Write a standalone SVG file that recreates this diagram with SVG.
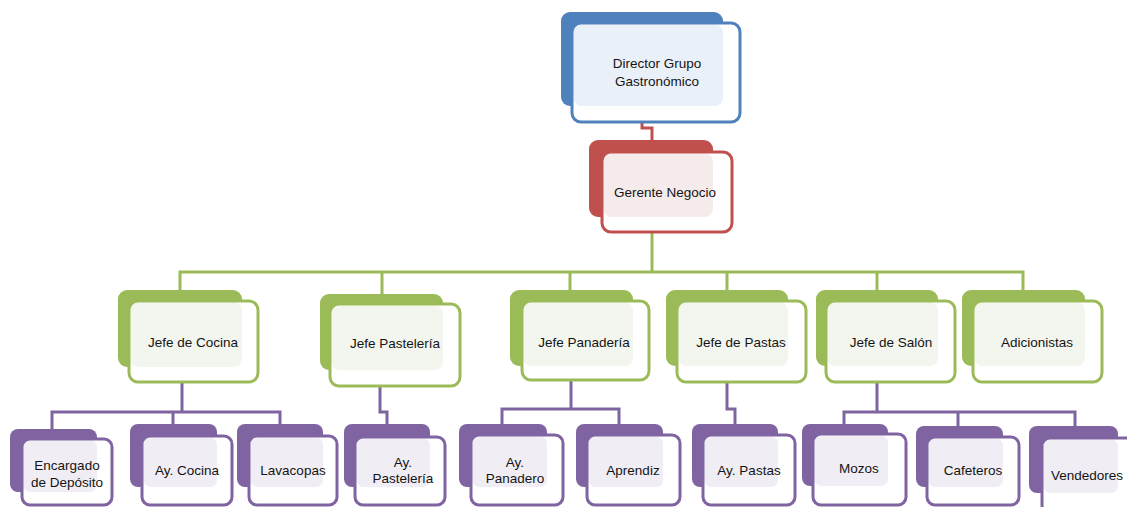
<svg xmlns="http://www.w3.org/2000/svg" width="1127" height="507" viewBox="0 0 1127 507">
<style>
text{font-family:"Liberation Sans",Arial,sans-serif;font-size:13.5px;fill:#141414;text-anchor:middle}
.ln{fill:none;stroke-width:3;stroke-linejoin:miter}
.fw{fill:#ffffff;stroke:none}
.bb{fill:#4F81BD}.ob{fill:none;stroke:#4F81BD;stroke-width:3}.tb{fill:#EAF0F8}
.br{fill:#C0504D}.or{fill:none;stroke:#C0504D;stroke-width:3}.tr{fill:#F6EBEB}
.bg{fill:#9BBB59}.og{fill:none;stroke:#9BBB59;stroke-width:3}.tg{fill:#F3F6EE}
.bp{fill:#8064A2}.op{fill:none;stroke:#8064A2;stroke-width:3}.tp{fill:#F0EEF4}
</style>
<rect width="1127" height="507" fill="#ffffff"/>
<g id="connectors">
<path class="ln" stroke="#C0504D" d="M642,112 V128 H652 V140"/>
<path class="ln" stroke="#9BBB59" d="M652,230 V272 M180,290 V272 H1023 V290 M382,272 V294 M570,272 V290 M727,272 V290 M877,272 V290"/>
<path class="ln" stroke="#8064A2" d="M182,380 V412 M52,429 V412 H280 V424 M173,412 V424 M380,384 V412 H387 V424 M571,379 V409 M502,424 V409 H619 V424 M727,380 V409 H735 V424 M877,380 V412 M844,424 V412 H1075 V426 M958,412 V426"/>
</g>
<g id="director">
<rect class="bb" x="561" y="12" width="162" height="94" rx="9"/>
<rect class="fw" x="572" y="23" width="168" height="99" rx="9"/>
<rect class="tb" x="573.5" y="24.5" width="149.5" height="81.5" rx="8"/>
<rect class="ob" x="572" y="23" width="168" height="99" rx="9"/>
<text x="657" y="68">Director Grupo</text>
<text x="657" y="86">Gastronómico</text>
</g>
<g id="gerente">
<rect class="br" x="589" y="140" width="124" height="77" rx="9"/>
<rect class="fw" x="602" y="152" width="130" height="80" rx="9"/>
<rect class="tr" x="603.5" y="153.5" width="109.5" height="63.5" rx="8"/>
<rect class="or" x="602" y="152" width="130" height="80" rx="9"/>
<text x="665" y="196.5">Gerente Negocio</text>
</g>
<g id="jefe-cocina">
<rect class="bg" x="118" y="290" width="124" height="77" rx="9"/>
<rect class="fw" x="129" y="301" width="129" height="81" rx="9"/>
<rect class="tg" x="130.5" y="302.5" width="111.5" height="64.5" rx="8"/>
<rect class="og" x="129" y="301" width="129" height="81" rx="9"/>
<text x="193" y="346.5">Jefe de Cocina</text>
</g>
<g id="jefe-pasteleria">
<rect class="bg" x="320" y="294" width="123" height="76" rx="9"/>
<rect class="fw" x="330" y="304" width="130" height="82" rx="9"/>
<rect class="tg" x="331.5" y="305.5" width="111.5" height="64.5" rx="8"/>
<rect class="og" x="330" y="304" width="130" height="82" rx="9"/>
<text x="395" y="347.5">Jefe Pastelería</text>
</g>
<g id="jefe-panaderia">
<rect class="bg" x="510" y="290" width="123" height="76" rx="9"/>
<rect class="fw" x="522" y="301" width="127" height="79" rx="9"/>
<rect class="tg" x="523.5" y="302.5" width="109.5" height="63.5" rx="8"/>
<rect class="og" x="522" y="301" width="127" height="79" rx="9"/>
<text x="584" y="346.5">Jefe Panadería</text>
</g>
<g id="jefe-pastas">
<rect class="bg" x="666" y="290" width="122" height="76" rx="9"/>
<rect class="fw" x="677" y="301" width="129" height="81" rx="9"/>
<rect class="tg" x="678.5" y="302.5" width="109.5" height="63.5" rx="8"/>
<rect class="og" x="677" y="301" width="129" height="81" rx="9"/>
<text x="741" y="346.5">Jefe de Pastas</text>
</g>
<g id="jefe-salon">
<rect class="bg" x="816" y="290" width="122" height="76" rx="9"/>
<rect class="fw" x="826" y="301" width="129" height="81" rx="9"/>
<rect class="tg" x="827.5" y="302.5" width="110.5" height="63.5" rx="8"/>
<rect class="og" x="826" y="301" width="129" height="81" rx="9"/>
<text x="891" y="346.5">Jefe de Salón</text>
</g>
<g id="adicionistas">
<rect class="bg" x="962" y="290" width="123" height="76" rx="9"/>
<rect class="fw" x="973" y="301" width="129" height="81" rx="9"/>
<rect class="tg" x="974.5" y="302.5" width="110.5" height="63.5" rx="8"/>
<rect class="og" x="973" y="301" width="129" height="81" rx="9"/>
<text x="1037" y="346.5">Adicionistas</text>
</g>
<g id="encargado-deposito">
<rect class="bp" x="10" y="429" width="87" height="63" rx="8"/>
<rect class="fw" x="22" y="439" width="90" height="66" rx="8"/>
<rect class="tp" x="23.5" y="440.5" width="73.5" height="51.5" rx="7"/>
<rect class="op" x="22" y="439" width="90" height="66" rx="8"/>
<text x="67" y="469.5">Encargado</text>
<text x="67" y="486.5">de Depósito</text>
</g>
<g id="ay-cocina">
<rect class="bp" x="130" y="424" width="87" height="63" rx="8"/>
<rect class="fw" x="142" y="436" width="90" height="69" rx="8"/>
<rect class="tp" x="143.5" y="437.5" width="73.5" height="49.5" rx="7"/>
<rect class="op" x="142" y="436" width="90" height="69" rx="8"/>
<text x="187" y="474.5">Ay. Cocina</text>
</g>
<g id="lavacopas">
<rect class="bp" x="237" y="424" width="86" height="63" rx="8"/>
<rect class="fw" x="249" y="436" width="88" height="69" rx="8"/>
<rect class="tp" x="250.5" y="437.5" width="72.5" height="49.5" rx="7"/>
<rect class="op" x="249" y="436" width="88" height="69" rx="8"/>
<text x="293" y="474.5">Lavacopas</text>
</g>
<g id="ay-pasteleria">
<rect class="bp" x="344" y="424" width="86" height="63" rx="8"/>
<rect class="fw" x="355" y="437" width="90" height="68" rx="8"/>
<rect class="tp" x="356.5" y="438.5" width="73.5" height="48.5" rx="7"/>
<rect class="op" x="355" y="437" width="90" height="68" rx="8"/>
<text x="403" y="466.5">Ay.</text>
<text x="403" y="482.5">Pastelería</text>
</g>
<g id="ay-panadero">
<rect class="bp" x="459" y="424" width="88" height="63" rx="8"/>
<rect class="fw" x="471" y="435" width="92" height="70" rx="8"/>
<rect class="tp" x="472.5" y="436.5" width="74.5" height="50.5" rx="7"/>
<rect class="op" x="471" y="435" width="92" height="70" rx="8"/>
<text x="515" y="466.5">Ay.</text>
<text x="515" y="482.5">Panadero</text>
</g>
<g id="aprendiz">
<rect class="bp" x="576" y="424" width="87" height="63" rx="8"/>
<rect class="fw" x="587" y="435" width="93" height="70" rx="8"/>
<rect class="tp" x="588.5" y="436.5" width="74.5" height="50.5" rx="7"/>
<rect class="op" x="587" y="435" width="93" height="70" rx="8"/>
<text x="633" y="474.5">Aprendiz</text>
</g>
<g id="ay-pastas">
<rect class="bp" x="692" y="424" width="86" height="63" rx="8"/>
<rect class="fw" x="703" y="435" width="92" height="70" rx="8"/>
<rect class="tp" x="704.5" y="436.5" width="73.5" height="50.5" rx="7"/>
<rect class="op" x="703" y="435" width="92" height="70" rx="8"/>
<text x="749" y="474.5">Ay. Pastas</text>
</g>
<g id="mozos">
<rect class="bp" x="802" y="424" width="86" height="62" rx="8"/>
<rect class="fw" x="813" y="434" width="93" height="71" rx="8"/>
<rect class="tp" x="814.5" y="435.5" width="73.5" height="50.5" rx="7"/>
<rect class="op" x="813" y="434" width="93" height="71" rx="8"/>
<text x="859" y="472.5">Mozos</text>
</g>
<g id="cafeteros">
<rect class="bp" x="916" y="426" width="87" height="61" rx="8"/>
<rect class="fw" x="927" y="437" width="92" height="68" rx="8"/>
<rect class="tp" x="928.5" y="438.5" width="74.5" height="48.5" rx="7"/>
<rect class="op" x="927" y="437" width="92" height="68" rx="8"/>
<text x="973" y="474.5">Cafeteros</text>
</g>
<g id="vendedores">
<rect class="bp" x="1029" y="426" width="89" height="67" rx="8"/>
<rect class="fw" x="1042" y="438" width="95" height="75" rx="8"/>
<rect class="tp" x="1043.5" y="439.5" width="74.5" height="53.5" rx="7"/>
<rect class="op" x="1042" y="438" width="95" height="75" rx="8"/>
<text x="1087" y="479.5">Vendedores</text>
</g>
</svg>
